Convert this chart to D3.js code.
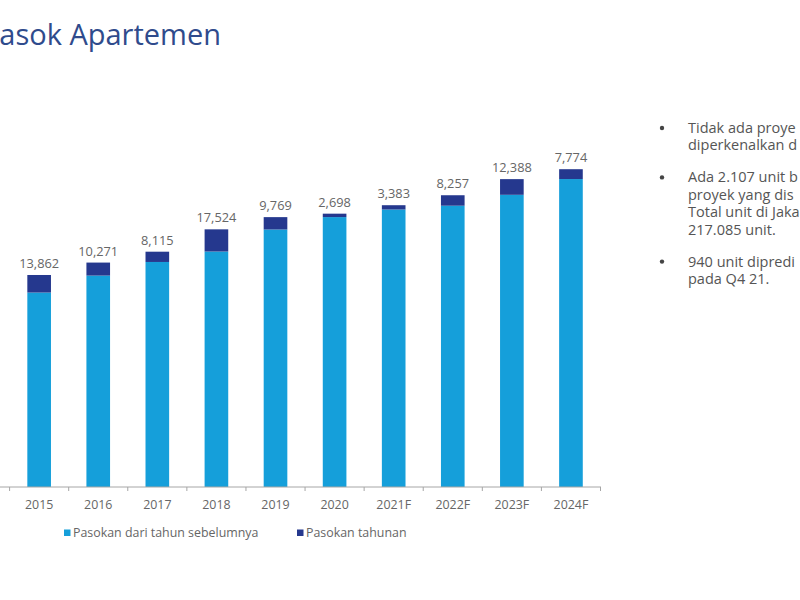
<!DOCTYPE html>
<html>
<head>
<meta charset="utf-8">
<script src="https://cdn.jsdelivr.net/npm/d3@7"></script>
<style>
  html, body { margin: 0; padding: 0; background: #fff; }
  svg { display: block; font-family: "Open Sans", "Noto Sans", sans-serif; }
</style>
</head>
<body>
<svg id="chart" width="800" height="600"></svg>
<script>
// ---- data ----
const categories = ["2015", "2016", "2017", "2018", "2019", "2020", "2021F", "2022F", "2023F", "2024F"];
const previousSupply = [153600, 167000, 177750, 186000, 203400, 213200, 219200, 222200, 230800, 243250];
const annualSupply = [13862, 10271, 8115, 17524, 9769, 2698, 3383, 8257, 12388, 7774];
const seriesNames = ["Pasokan dari tahun sebelumnya", "Pasokan tahunan"];
const titleText = "asok Apartemen";
const bullets = [
  ["Tidak ada proye", "diperkenalkan d"],
  ["Ada 2.107 unit b", "proyek yang dis", "Total unit di Jaka", "217.085 unit."],
  ["940 unit dipredi", "pada Q4 21."]
];

// ---- styles ----
const colLight = "#159fda";
const colDark = "#25388e";
const textGray = "#666";

const svg = d3.select("#chart");

// Title
svg.append("text")
  .attr("x", 221).attr("y", 45)
  .attr("text-anchor", "end")
  .attr("font-size", 29)
  .attr("fill", "#2f4b8c")
  .text(titleText);

// Scales
const x = d3.scaleBand()
  .domain(categories)
  .range([9.6, 600.5])
  .paddingInner(0.6)
  .paddingOuter(0.3);

const y = d3.scaleLinear()
  .domain([0, 250000])
  .range([487, 170.5]);

const data = categories.map((c, i) => ({
  cat: c,
  prev: previousSupply[i],
  annual: annualSupply[i],
  total: previousSupply[i] + annualSupply[i]
}));

const g = svg.append("g");

// light bars
g.selectAll("rect.prev").data(data).join("rect")
  .attr("class", "prev")
  .attr("x", d => x(d.cat))
  .attr("width", x.bandwidth())
  .attr("y", d => y(d.prev))
  .attr("height", d => y(0) - y(d.prev))
  .attr("fill", colLight);

// dark bars
g.selectAll("rect.annual").data(data).join("rect")
  .attr("class", "annual")
  .attr("x", d => x(d.cat))
  .attr("width", x.bandwidth())
  .attr("y", d => y(d.total))
  .attr("height", d => y(d.prev) - y(d.total))
  .attr("fill", colDark);

// value labels
g.selectAll("text.val").data(data).join("text")
  .attr("class", "val")
  .attr("x", d => x(d.cat) + x.bandwidth() / 2)
  .attr("y", d => y(d.total) - 7)
  .attr("text-anchor", "middle")
  .attr("font-size", 12.8)
  .attr("fill", textGray)
  .text(d => d3.format(",")(d.annual));

// x axis
const axisY = y(0);
svg.append("line")
  .attr("x1", 0).attr("x2", 601)
  .attr("y1", axisY).attr("y2", axisY)
  .attr("stroke", "#a6a6a6").attr("stroke-width", 1);

const step = x.step();
const x0 = x.range()[0];
const boundaries = d3.range(categories.length + 1).map(i => x0 + i * step);
svg.selectAll("line.tick").data(boundaries).join("line")
  .attr("class", "tick")
  .attr("x1", d => d).attr("x2", d => d)
  .attr("y1", axisY).attr("y2", axisY + 4)
  .attr("stroke", "#a6a6a6");

svg.selectAll("text.cat").data(categories).join("text")
  .attr("class", "cat")
  .attr("x", d => x(d) + x.bandwidth() / 2)
  .attr("y", 509)
  .attr("text-anchor", "middle")
  .attr("font-size", 12.4)
  .attr("fill", textGray)
  .text(d => d);

// legend
const legendItems = [
  { name: seriesNames[0], color: colLight, x: 64 },
  { name: seriesNames[1], color: colDark, x: 297 }
];
const lg = svg.selectAll("g.leg").data(legendItems).join("g").attr("class", "leg")
  .attr("transform", d => `translate(${d.x},533)`);
lg.append("rect").attr("x", 0).attr("y", -3.5).attr("width", 6.5).attr("height", 6.5).attr("fill", d => d.color);
lg.append("text").attr("x", 9).attr("y", 4).attr("font-size", 12.4).attr("fill", textGray).text(d => d.name);

// bullets
let by = 133;
const lineStep = 17.4;
bullets.forEach((lines) => {
  svg.append("circle").attr("cx", 662).attr("cy", by - 5).attr("r", 2.2).attr("fill", "#444");
  lines.forEach((ln, li) => {
    svg.append("text")
      .attr("x", 688).attr("y", by + li * lineStep)
      .attr("font-size", 14.5)
      .attr("fill", "#555")
      .text(ln);
  });
  by += (lines.length - 1) * lineStep + 32;
});
</script>
</body>
</html>
